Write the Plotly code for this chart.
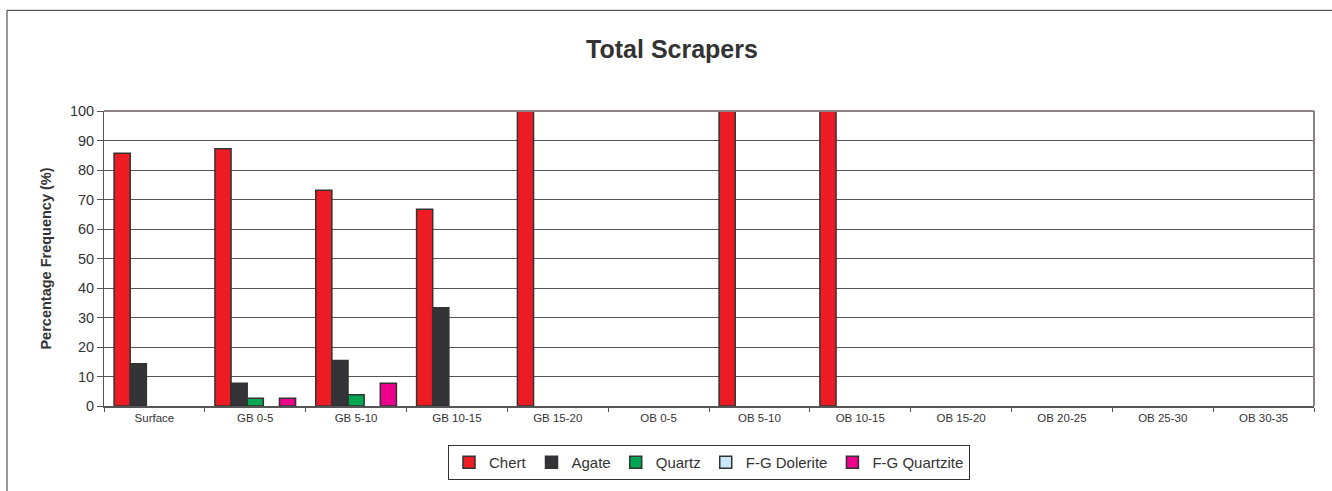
import plotly.graph_objects as go

# Stratigraphic units (excavation levels)
levels = ["Surface", "GB 0-5", "GB 5-10", "GB 10-15", "GB 15-20", "OB 0-5",
          "OB 5-10", "OB 10-15", "OB 15-20", "OB 20-25", "OB 25-30", "OB 30-35"]

# Percentage frequency of scrapers by raw material
chert =        [85.7, 87.2, 73.1, 66.7, 100, 0, 100, 100, 0, 0, 0, 0]
agate =        [14.3, 7.7, 15.4, 33.3, 0, 0, 0, 0, 0, 0, 0, 0]
quartz =       [0, 2.6, 3.8, 0, 0, 0, 0, 0, 0, 0, 0, 0]
fg_dolerite =  [0, 0, 0, 0, 0, 0, 0, 0, 0, 0, 0, 0]
fg_quartzite = [0, 2.6, 7.7, 0, 0, 0, 0, 0, 0, 0, 0, 0]

y_ticks = [0, 10, 20, 30, 40, 50, 60, 70, 80, 90, 100]

series = [
    ("Chert", chert, "#ED1C24"),
    ("Agate", agate, "#333338"),
    ("Quartz", quartz, "#00A651"),
    ("F-G Dolerite", fg_dolerite, "#C8E9F9"),
    ("F-G Quartzite", fg_quartzite, "#EC008C"),
]

FONT = "Liberation Sans, Arial, sans-serif"
W, H = 1332, 491
L, R, T, B = 104, 18, 111, 84
PW, PH = W - L - R, H - T - B

fig = go.Figure()
for name, vals, color in series:
    # empty (zero) bars are left undrawn so no outline sits on the axis
    fig.add_trace(go.Bar(
        name=name, x=levels, y=[v if v else None for v in vals],
        marker=dict(color=color, line=dict(color="#333333", width=1.5)),
    ))


def px_x(px):
    return (px - L) / PW


def px_y(py):
    return (H - B - py) / PH


shapes = [
    # plot-area top and right borders
    dict(type="line", xref="paper", yref="paper", x0=0, x1=1, y0=1, y1=1,
         line=dict(color="#8C8282", width=2), layer="above"),
    dict(type="line", xref="paper", yref="paper", x0=1, x1=1, y0=0, y1=1,
         line=dict(color="#8C8282", width=2), layer="above"),
    # chart-area frame (top and left edges)
    dict(type="line", xref="paper", yref="paper", x0=px_x(7), x1=px_x(1340),
         y0=px_y(10), y1=px_y(10), line=dict(color="#333333", width=1)),
    dict(type="line", xref="paper", yref="paper", x0=px_x(7), x1=px_x(7),
         y0=px_y(10), y1=px_y(500), line=dict(color="#333333", width=1)),
]

fig.update_layout(
    width=W, height=H,
    margin=dict(l=L, r=R, t=T, b=B),
    paper_bgcolor="white", plot_bgcolor="white",
    barmode="group", bargap=0.2, bargroupgap=0,
    font=dict(family=FONT, color="#333333"),
    title=dict(text="<b>Total Scrapers</b>", x=672 / W, xref="container",
               xanchor="center", y=1 - 49 / H, yanchor="middle",
               font=dict(size=25, color="#333333", family=FONT)),
    showlegend=True,
    legend=dict(orientation="h", x=px_x(709), xanchor="center", y=px_y(480),
                yanchor="bottom", font=dict(size=15, color="#333333", family=FONT),
                bordercolor="#333333", borderwidth=1, bgcolor="white",
                traceorder="normal", itemclick=False, itemwidth=30,
                tracegroupgap=0),
    shapes=shapes,
)

fig.update_xaxes(
    type="category", tickson="boundaries", ticks="outside", ticklen=4,
    tickcolor="#555555", showline=True, linecolor="#555555", linewidth=2,
    tickfont=dict(size=11.5, color="#333333", family=FONT),
    showgrid=False, fixedrange=True,
)
fig.update_yaxes(
    range=[0, 100], tickvals=y_ticks, ticks="outside", ticklen=6,
    tickcolor="#555555", showline=True, linecolor="#555555", linewidth=1,
    tickfont=dict(size=14.5, color="#333333", family=FONT),
    showgrid=True, gridcolor="#555555", gridwidth=1, zeroline=False,
    title=dict(text="<b>Percentage Frequency (%)</b>", standoff=14,
               font=dict(size=14.5, color="#333333", family=FONT)),
    fixedrange=True,
)

fig.write_html("out.html", config={"displayModeBar": False})
